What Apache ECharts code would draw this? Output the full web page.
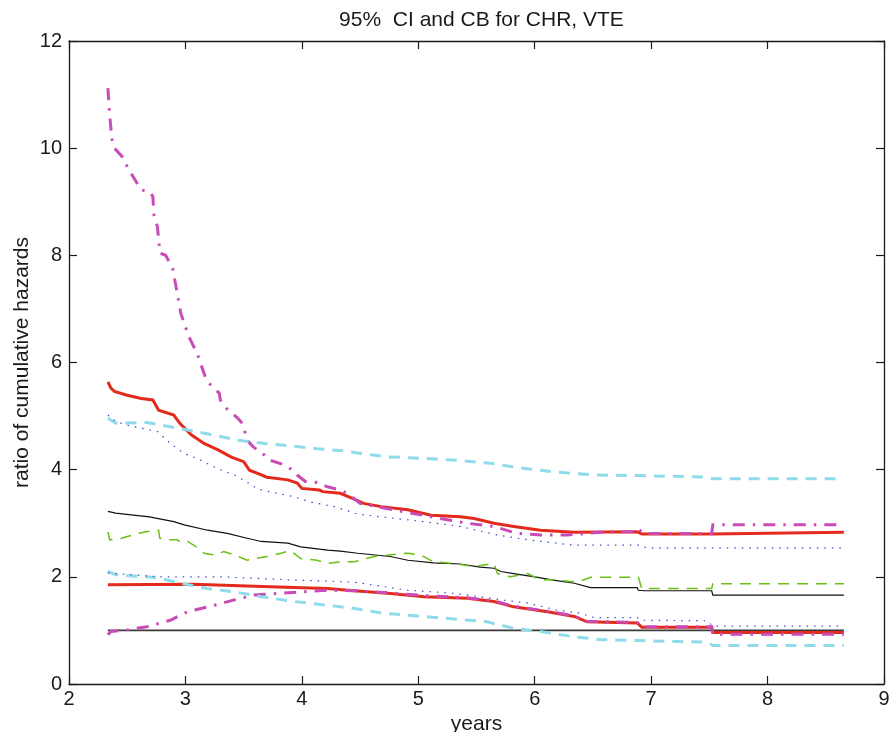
<!DOCTYPE html>
<html>
<head>
<meta charset="utf-8">
<title>95% CI and CB for CHR, VTE</title>
<script src="https://cdn.jsdelivr.net/npm/echarts@6/dist/echarts.min.js"></script>
<style>
  html, body { margin: 0; padding: 0; background: #ffffff; }
  #chart { width: 892px; height: 732px; }
</style>
</head>
<body>
<div id="chart"></div>
<script>
// Tick labels for both axes
const xTicks = [2, 3, 4, 5, 6, 7, 8, 9];
const yTicks = [0, 2, 4, 6, 8, 10, 12];

// Reference line (ratio = 1)
const refLine = [[2.334, 1.0], [8.655, 1.0]];

// Estimated ratio of cumulative hazards (CHR)
const chrEstimate = [
  [2.334, 3.22], [2.40, 3.19], [2.69, 3.12], [2.90, 3.03], [2.99, 2.97], [3.19, 2.87],
  [3.36, 2.81], [3.53, 2.72], [3.65, 2.66], [3.88, 2.63], [3.99, 2.56], [4.22, 2.50],
  [4.33, 2.48], [4.48, 2.44], [4.76, 2.38], [4.91, 2.31], [5.13, 2.26], [5.36, 2.24],
  [5.53, 2.18], [5.65, 2.16], [5.71, 2.10], [5.82, 2.06], [6.00, 2.00], [6.16, 1.94],
  [6.34, 1.88], [6.48, 1.80], [6.88, 1.80], [6.89, 1.75], [6.94, 1.74], [7.52, 1.74],
  [7.53, 1.66], [8.655, 1.66]
];

// Confidence band, upper and lower (red)
const bandUpper = [
  [2.334, 5.64], [2.36, 5.52], [2.39, 5.46], [2.50, 5.39], [2.62, 5.33], [2.72, 5.30],
  [2.77, 5.11], [2.90, 5.02], [2.95, 4.87], [3.05, 4.65], [3.16, 4.49], [3.28, 4.37],
  [3.39, 4.24], [3.50, 4.15], [3.55, 3.99], [3.62, 3.93], [3.70, 3.86], [3.88, 3.81],
  [3.96, 3.75], [4.00, 3.65], [4.15, 3.62], [4.18, 3.59], [4.33, 3.56], [4.45, 3.45],
  [4.53, 3.37], [4.68, 3.31], [4.91, 3.25], [5.11, 3.15], [5.36, 3.12], [5.48, 3.09],
  [5.65, 3.00], [5.82, 2.94], [6.05, 2.87], [6.34, 2.83], [6.88, 2.84], [6.92, 2.80],
  [7.52, 2.80], [7.53, 2.83], [8.655, 2.83]
];
const bandLower = [
  [2.334, 1.85], [3.07, 1.86], [3.53, 1.83], [3.93, 1.80], [4.22, 1.78], [4.45, 1.74],
  [4.76, 1.69], [5.05, 1.63], [5.42, 1.60], [5.65, 1.54], [5.82, 1.44], [6.11, 1.35],
  [6.34, 1.26], [6.45, 1.16], [6.88, 1.14], [6.92, 1.06], [7.52, 1.06], [7.53, 0.96],
  [8.655, 0.96]
];

// Second confidence band, upper and lower (magenta dash-dot)
const band2Upper = [
  [2.334, 11.12], [2.35, 10.6], [2.37, 10.15], [2.39, 10.0], [2.47, 9.81], [2.50, 9.65],
  [2.62, 9.22], [2.69, 9.19], [2.72, 9.10], [2.73, 8.75], [2.76, 8.53], [2.78, 8.04],
  [2.83, 8.00], [2.89, 7.76], [2.93, 7.29], [2.96, 6.92], [2.99, 6.73], [3.03, 6.48],
  [3.10, 6.17], [3.12, 6.05], [3.18, 5.67], [3.23, 5.55], [3.29, 5.43], [3.30, 5.30],
  [3.35, 5.15], [3.45, 4.96], [3.49, 4.86], [3.53, 4.55], [3.58, 4.43], [3.68, 4.27],
  [3.72, 4.18], [3.85, 4.09], [3.92, 3.99], [3.96, 3.90], [4.03, 3.78], [4.13, 3.76],
  [4.22, 3.68], [4.33, 3.62], [4.39, 3.56], [4.50, 3.37], [4.79, 3.25], [5.11, 3.12],
  [5.42, 3.00], [5.65, 2.94], [5.85, 2.81], [6.05, 2.78], [6.28, 2.78], [6.45, 2.81],
  [6.60, 2.84], [6.86, 2.84], [6.88, 2.90], [6.94, 2.81], [7.52, 2.81], [7.53, 2.97],
  [8.655, 2.97]
];
const band2Lower = [
  [2.334, 0.92], [2.36, 0.98], [2.50, 1.01], [2.67, 1.07], [2.87, 1.19], [3.02, 1.35],
  [3.25, 1.47], [3.42, 1.57], [3.59, 1.66], [3.79, 1.69], [3.99, 1.72], [4.22, 1.75],
  [4.45, 1.74], [4.76, 1.70], [5.05, 1.65], [5.42, 1.61], [5.65, 1.55], [5.82, 1.45],
  [6.11, 1.36], [6.34, 1.27], [6.45, 1.17], [6.88, 1.15], [6.92, 1.07], [7.52, 1.07],
  [7.53, 0.93], [8.655, 0.93]
];

// Pointwise confidence interval, upper and lower (cyan dashed)
const ciUpper = [
  [2.334, 4.96], [2.40, 4.87], [2.67, 4.88], [3.02, 4.74], [3.30, 4.62], [3.45, 4.55],
  [3.68, 4.49], [3.88, 4.45], [4.13, 4.39], [4.36, 4.35], [4.48, 4.31], [4.73, 4.24],
  [5.05, 4.21], [5.36, 4.17], [5.62, 4.12], [5.88, 4.03], [6.16, 3.96], [6.51, 3.90],
  [6.91, 3.89], [7.48, 3.86], [7.53, 3.83], [8.655, 3.83]
];
const ciLower = [
  [2.334, 2.10], [2.40, 2.04], [2.67, 2.00], [2.79, 1.97], [2.96, 1.88], [3.19, 1.78],
  [3.42, 1.72], [3.65, 1.63], [3.93, 1.54], [4.22, 1.47], [4.45, 1.41], [4.70, 1.32],
  [4.99, 1.27], [5.33, 1.21], [5.59, 1.16], [5.82, 1.04], [6.05, 0.98], [6.34, 0.88],
  [6.56, 0.83], [6.91, 0.81], [7.48, 0.78], [7.53, 0.72], [8.655, 0.72]
];

// Second pointwise interval, upper and lower (blue dotted)
const ci2Upper = [
  [2.334, 5.02], [2.40, 4.90], [2.50, 4.83], [2.76, 4.71], [2.87, 4.49], [2.99, 4.30],
  [3.10, 4.21], [3.22, 4.08], [3.32, 3.98], [3.42, 3.90], [3.52, 3.78], [3.62, 3.64],
  [3.76, 3.57], [3.92, 3.50], [4.09, 3.39], [4.28, 3.31], [4.48, 3.17], [4.68, 3.12],
  [5.05, 3.03], [5.36, 2.94], [5.68, 2.78], [5.94, 2.69], [6.34, 2.59], [6.91, 2.59],
  [6.96, 2.54], [8.655, 2.54]
];
const ci2Lower = [
  [2.334, 2.07], [2.79, 2.00], [3.30, 2.00], [3.93, 1.94], [4.45, 1.90], [4.91, 1.75],
  [5.33, 1.69], [5.71, 1.57], [5.94, 1.51], [6.19, 1.38], [6.39, 1.32], [6.51, 1.24],
  [6.88, 1.24], [6.91, 1.19], [7.48, 1.18], [7.53, 1.08], [8.655, 1.08]
];

// Alternative estimate (green dashed)
const altEstimate = [
  [2.334, 2.84], [2.35, 2.69], [2.45, 2.72], [2.59, 2.81], [2.66, 2.84], [2.77, 2.87],
  [2.78, 2.72], [2.83, 2.69], [2.93, 2.69], [2.96, 2.64], [3.02, 2.66], [3.10, 2.55],
  [3.16, 2.44], [3.25, 2.41], [3.33, 2.47], [3.42, 2.41], [3.53, 2.31], [3.59, 2.34],
  [3.70, 2.38], [3.82, 2.44], [3.90, 2.49], [3.99, 2.34], [4.13, 2.31], [4.22, 2.25],
  [4.33, 2.28], [4.45, 2.28], [4.62, 2.38], [4.76, 2.41], [4.91, 2.44], [5.02, 2.41],
  [5.13, 2.28], [5.31, 2.25], [5.48, 2.19], [5.65, 2.25], [5.68, 2.06], [5.79, 2.00],
  [5.94, 2.06], [6.05, 1.94], [6.19, 1.95], [6.31, 1.91], [6.42, 1.94], [6.48, 1.99],
  [6.89, 1.99], [6.92, 1.78], [7.52, 1.78], [7.53, 1.87], [8.655, 1.87]
];

const FONT = '"Liberation Sans", Arial, Helvetica, sans-serif';
const INK = '#1a1a1a';

const xMin = xTicks[0], xMax = xTicks[xTicks.length - 1], xStep = xTicks[1] - xTicks[0];
const yMin = yTicks[0], yMax = yTicks[yTicks.length - 1], yStep = yTicks[1] - yTicks[0];

// Plot box in pixels
const GRID = { left: 69, right: 8, top: 41, bottom: 48 };
const plotCenterX = GRID.left + (892 - GRID.left - GRID.right) / 2;

function lineSeries(name, data, color, width, type) {
  return {
    name: name,
    type: 'line',
    data: data,
    xAxisIndex: 0,
    yAxisIndex: 0,
    showSymbol: false,
    symbol: 'none',
    silent: true,
    lineStyle: { color: color, width: width, type: type, cap: 'butt', join: 'miter' },
    z: 2
  };
}

const boxLine = { show: true, onZero: false, lineStyle: { color: INK, width: 1.3 } };
const tickIn = { show: true, inside: true, length: 8, lineStyle: { color: INK, width: 1.2 } };

const chart = echarts.init(document.getElementById('chart'), null, { renderer: 'canvas' });
chart.setOption({
  animation: false,
  backgroundColor: '#ffffff',
  title: {
    text: '95%  CI and CB for CHR, VTE',
    left: plotCenterX,
    textAlign: 'center',
    top: 5,
    textStyle: { fontFamily: FONT, fontSize: 21, fontWeight: 'normal', color: INK }
  },
  grid: {
    left: GRID.left, right: GRID.right, top: GRID.top, bottom: GRID.bottom,
    containLabel: false, outerBoundsMode: 'none'
  },
  xAxis: [
    {
      type: 'value', position: 'bottom', min: xMin, max: xMax, interval: xStep,
      name: 'years', nameLocation: 'middle', nameGap: 30, nameMoveOverlap: false,
      nameTextStyle: { fontFamily: FONT, fontSize: 21, color: INK },
      axisLine: boxLine, axisTick: tickIn,
      axisLabel: { fontFamily: FONT, fontSize: 20, color: INK, margin: 5 },
      splitLine: { show: false }
    },
    {
      type: 'value', position: 'top', min: xMin, max: xMax, interval: xStep,
      axisLine: boxLine, axisTick: tickIn,
      axisLabel: { show: false }, splitLine: { show: false }
    }
  ],
  yAxis: [
    {
      type: 'value', position: 'left', min: yMin, max: yMax, interval: yStep,
      name: 'ratio of cumulative hazards', nameLocation: 'middle', nameGap: 36,
      nameRotate: 90, nameMoveOverlap: false,
      nameTextStyle: { fontFamily: FONT, fontSize: 21, color: INK },
      axisLine: boxLine, axisTick: tickIn,
      axisLabel: { fontFamily: FONT, fontSize: 20, color: INK, margin: 7 },
      splitLine: { show: false }
    },
    {
      type: 'value', position: 'right', min: yMin, max: yMax, interval: yStep,
      axisLine: boxLine, axisTick: tickIn,
      axisLabel: { show: false }, splitLine: { show: false }
    }
  ],
  series: [
    lineSeries('ref', refLine, '#3a3a3a', 1.8, 'solid'),
    lineSeries('CHR', chrEstimate, '#111111', 1.2, 'solid'),
    lineSeries('CB upper', bandUpper, '#e22b1c', 3, 'solid'),
    lineSeries('CB lower', bandLower, '#e22b1c', 3, 'solid'),
    lineSeries('CB2 upper', band2Upper, '#c94bb8', 3, [12, 8, 2.5, 8]),
    lineSeries('CB2 lower', band2Lower, '#c94bb8', 3, [12, 8, 2.5, 8]),
    lineSeries('CI upper', ciUpper, '#8edbea', 3, [11, 8]),
    lineSeries('CI lower', ciLower, '#8edbea', 3, [11, 8]),
    lineSeries('CI2 upper', ci2Upper, '#4343c8', 1.2, [1.5, 6]),
    lineSeries('CI2 lower', ci2Lower, '#4343c8', 1.2, [1.5, 6]),
    lineSeries('alt', altEstimate, '#6cbf14', 1.5, [11, 8])
  ]
});
</script>
</body>
</html>
